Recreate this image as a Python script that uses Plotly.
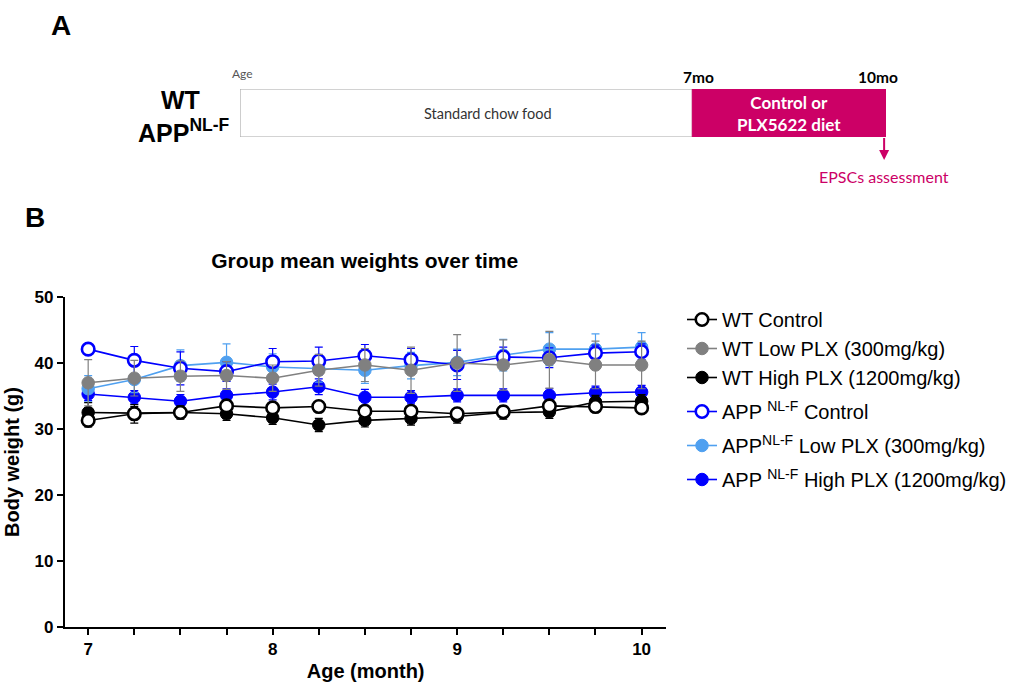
import plotly.graph_objects as go

# ---------------- data ----------------
ages = [7, 7.25, 7.5, 7.75, 8, 8.25, 8.5, 8.75, 9, 9.25, 9.5, 9.75, 10]
x_major_ticks = [7, 8, 9, 10]
x_minor_step = 0.25
y_ticks = [0, 10, 20, 30, 40, 50]

wt_control = [31.3, 32.3, 32.5, 33.5, 33.2, 33.4, 32.7, 32.7, 32.3, 32.6, 33.5, 33.4, 33.2]
wt_control_err = [1.0, 1.4, 0.8, 0.8, 0.8, 0.8, 0.8, 0.8, 0.8, 0.8, 0.8, 0.8, 0.8]
wt_low = [37.0, 37.7, 38.0, 38.1, 37.7, 38.9, 39.7, 38.9, 40.0, 39.7, 40.5, 39.7, 39.7]
wt_low_err = [3.5, 2.7, 2.3, 2.1, 2.0, 2.4, 2.5, 3.5, 4.3, 3.8, 4.3, 3.6, 3.6]
wt_high = [32.5, 32.4, 32.5, 32.3, 31.7, 30.6, 31.3, 31.6, 31.9, 32.5, 32.6, 34.1, 34.2]
wt_high_err = [1.5, 1.0, 1.0, 1.0, 1.0, 1.0, 1.0, 1.0, 1.0, 1.0, 1.0, 1.0, 1.0]
app_control = [42.1, 40.4, 39.2, 38.7, 40.2, 40.3, 41.1, 40.5, 39.7, 40.9, 40.8, 41.5, 41.7]
app_control_err = [0.8, 2.1, 2.5, 1.5, 2.0, 2.1, 1.7, 1.7, 2.2, 1.5, 1.5, 1.2, 1.2]
app_low = [36.1, 37.5, 39.6, 40.1, 39.4, 39.1, 38.9, 39.6, 40.1, 41.2, 42.1, 42.1, 42.4]
app_low_err = [2.0, 2.0, 2.4, 2.8, 2.0, 2.0, 2.0, 2.0, 2.0, 2.4, 2.5, 2.3, 2.2]
app_high = [35.3, 34.8, 34.2, 35.1, 35.6, 36.4, 34.8, 34.8, 35.1, 35.1, 35.1, 35.5, 35.6]
app_high_err = [1.0, 1.0, 1.0, 1.0, 1.2, 1.2, 1.2, 1.0, 1.0, 1.0, 1.0, 1.0, 1.0]

series_names = [
    "WT Control",
    "WT Low PLX (300mg/kg)",
    "WT High PLX (1200mg/kg)",
    "APP <sup>NL-F</sup> Control",
    "APP<sup>NL-F</sup> Low PLX (300mg/kg)",
    "APP <sup>NL-F</sup> High PLX (1200mg/kg)",
]
series_groups = ["wt", "wt", "wt", "app1", "app2", "app3"]
series_values = [wt_control, wt_low, wt_high, app_control, app_low, app_high]
series_errors = [wt_control_err, wt_low_err, wt_high_err, app_control_err, app_low_err, app_high_err]
series_colors = ["#000000", "#808080", "#000000", "#0000FF", "#4FA0F0", "#0000FF"]
series_open = [True, False, False, True, False, False]

# panel A timeline (months of age)
phase_labels = ["Standard chow food", "<b>Control or<br>PLX5622 diet</b>"]
phase_start = [0, 7]
phase_end = [7, 10]
milestone_months = [7, 10]
milestone_labels = ["7mo", "10mo"]
assessment_month = 10
assessment_label = "EPSCs assessment"

MAGENTA = "#CC0066"
FONT = "Liberation Sans, Arial, sans-serif"
FONT_A = "Lato, Carlito, sans-serif"
W, H = 1012, 684


def px(x):
    return x / W


def py(y):
    return 1 - y / H


fig = go.Figure()

# add traces in reverse so the first-listed series is drawn on top;
# legendrank keeps the legend in the original order
for i in reversed(range(len(series_names))):
    col = series_colors[i]
    fig.add_trace(go.Scatter(
        x=ages, y=series_values[i], name=series_names[i],
        legendgroup=series_groups[i], legendrank=i + 1,
        mode="lines+markers",
        line=dict(color=col, width=1.6),
        marker=dict(size=12.5, symbol="circle",
                    color="white" if series_open[i] else col,
                    line=dict(color=col, width=2.6 if series_open[i] else 1)),
        error_y=dict(type="data", array=series_errors[i], visible=True,
                     color=col, thickness=1.2, width=4),
        cliponaxis=False,
    ))

# panel A: timeline bars on a hidden month axis
shapes = []
for k, (s, e) in enumerate(zip(phase_start, phase_end)):
    if k == 0:
        shapes.append(dict(type="rect", xref="x2", yref="y2", x0=s, x1=e, y0=0, y1=1,
                           fillcolor="white", line=dict(color="#A6A6A6", width=1), layer="below"))
    else:
        shapes.append(dict(type="rect", xref="x2", yref="y2", x0=s, x1=e, y0=0, y1=1,
                           fillcolor=MAGENTA, line=dict(color=MAGENTA, width=1)))


def note(text, x, y, size, color="black", family=FONT_A, xref="x2", xshift=0, xanchor="center"):
    return dict(xref=xref, yref="paper", x=x, y=y, xshift=xshift, text=text,
                showarrow=False, xanchor=xanchor, yanchor="middle",
                font=dict(family=family, size=size, color=color))


annotations = []
annotations.append(note(phase_labels[0], (phase_start[0] + phase_end[0]) / 2, py(113), 14.5,
                        "#333333", xshift=22))
annotations.append(note(phase_labels[1], (phase_start[1] + phase_end[1]) / 2, py(113), 17, "white"))
for m, lab, sh in zip(milestone_months, milestone_labels, [6, -8]):
    annotations.append(note("<b>" + lab + "</b>", m, py(77), 15.5, xshift=sh))
annotations.append(note("Age", phase_start[0], py(74), 12, "#555555", xshift=2))
# arrow from the end of the diet bar down to the assessment label
annotations.append(dict(xref="x2", yref="paper", x=assessment_month, y=py(138), xshift=-2,
                        ax=0, ay=39, text=assessment_label, showarrow=True,
                        arrowside="start", startarrowhead=2, startarrowsize=1,
                        arrowwidth=2, arrowcolor=MAGENTA, startstandoff=6,
                        font=dict(family=FONT_A, size=16, color=MAGENTA)))
annotations.append(note("<b>WT</b>", px(181), py(100), 25, family=FONT, xref="paper"))
annotations.append(note("<b>APP<sup>NL-F</sup></b>", px(232), py(131), 25, family=FONT,
                        xref="paper", xanchor="right"))
annotations.append(note("<b>A</b>", px(61), py(26), 28, family=FONT, xref="paper"))
annotations.append(note("<b>B</b>", px(35), py(218), 28, family=FONT, xref="paper"))

fig.update_layout(
    width=W, height=H,
    margin=dict(l=0, r=0, t=0, b=0),
    paper_bgcolor="white", plot_bgcolor="white",
    font=dict(family=FONT, color="black"),
    title=dict(text="<b>Group mean weights over time</b>", x=px(365), y=py(261),
               xref="paper", yref="paper", xanchor="center", yanchor="middle",
               font=dict(size=21, color="black")),
    xaxis=dict(domain=[px(65), px(667)], range=[6.874, 10.134],
               tickvals=x_major_ticks,
               minor=dict(tick0=x_major_ticks[0], dtick=x_minor_step, ticks="outside",
                          ticklen=6, tickwidth=2, tickcolor="black", showgrid=False),
               showline=True, linewidth=2, linecolor="black",
               ticks="outside", ticklen=6, tickwidth=2, tickcolor="black",
               showgrid=False, zeroline=False, automargin=False,
               tickfont=dict(size=17, weight="bold"),
               title=dict(text="<b>Age (month)</b>", font=dict(size=20), standoff=6)),
    yaxis=dict(domain=[1 - 627 / H, 1 - 297 / H], range=[0, 50],
               tickvals=y_ticks,
               showline=True, linewidth=2, linecolor="black",
               ticks="outside", ticklen=6, tickwidth=2, tickcolor="black",
               showgrid=False, zeroline=False, automargin=False,
               tickfont=dict(size=17, weight="bold"),
               title=dict(text="<b>Body weight (g)</b>", font=dict(size=20), standoff=10)),
    xaxis2=dict(domain=[px(240.3), px(887)], range=[0, 10], visible=False,
                anchor="y2", fixedrange=True),
    yaxis2=dict(domain=[1 - 137 / H, 1 - 89 / H], range=[0, 1], visible=False,
                anchor="x2", fixedrange=True),
    legend=dict(x=px(683), y=py(300), xanchor="left", yanchor="top",
                traceorder="grouped", tracegroupgap=5,
                font=dict(size=20, color="black"),
                bgcolor="rgba(0,0,0,0)"),
    shapes=shapes,
    annotations=annotations,
    showlegend=True,
)

fig.write_html("out.html")
